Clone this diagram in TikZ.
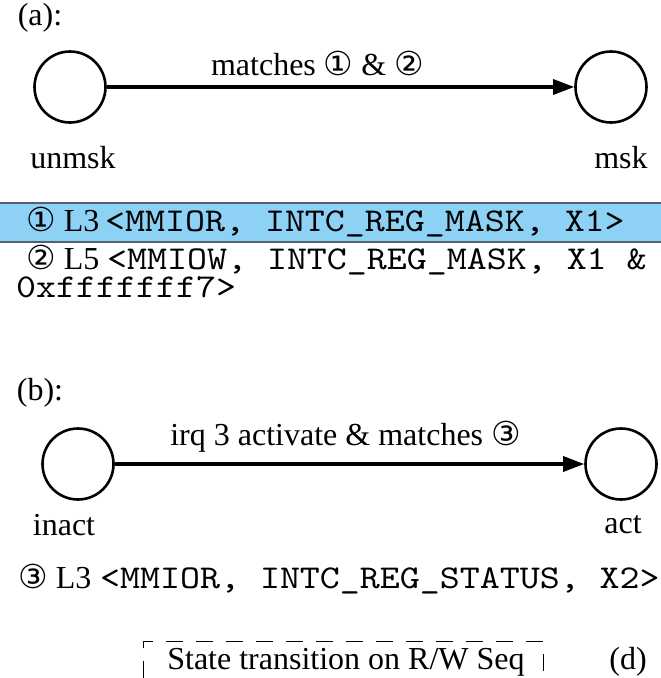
\documentclass[tikz,border=0pt]{standalone}
\usepackage{fontspec}
\setmainfont{Liberation Serif}
\setmonofont{lmmono10-regular.otf}[FakeStretch=1.143]
\newfontfamily\circfont{DejaVu Sans}
\usetikzlibrary{arrows.meta}
\definecolor{bandblue}{RGB}{141,210,245}
\definecolor{bandedge}{RGB}{85,95,115}
\tikzset{
  state/.style={circle,draw=black,line width=2.6pt,minimum size=71pt,inner sep=0pt},
  trans/.style={line width=3.2pt,-{Triangle[length=21pt,width=15pt]}},
  lbl/.style={inner sep=0pt,font=\fontsize{32}{36}\selectfont},
  seq/.style={inner sep=0pt,anchor=base west,font=\fontsize{32}{36}\selectfont},
  code/.style={inner sep=0pt,anchor=base west,font=\fontsize{33.3}{36}\ttfamily},
  dashframe/.style={line width=1pt,dash pattern=on 17pt off 13pt}
}
\newcommand{\cnum}[1]{{\circfont\fontsize{33}{36}\selectfont #1}}
\begin{document}
\begin{tikzpicture}[x=1pt,y=-1pt]
\useasboundingbox (0,0) rectangle (661,678);
% (a)
\node[lbl] (pa) at (40,18) {(a):};
\node[state] (unmsk) at (70,87) {};
\node[state] (msk) at (611,87) {};
\draw[trans] (unmsk) -- (msk) node[lbl,midway,above=10pt,xshift=-23pt] (la) {matches \cnum{①} \& \cnum{②}};
\node[lbl] (tunmsk) at (73,158) {unmsk};
\node[lbl] (tmsk) at (621,158) {msk};
% highlighted band
\fill[bandblue] (0,203) rectangle (661,242);
\draw[bandedge,line width=1.2pt] (0,203) -- (661,203);
\draw[bandedge,line width=1.2pt] (0,242) -- (661,242);
\node[seq] (s1a) at (26,231) {\cnum{①} L3};
\node[code] (s1b) at (105,231) {<MMIOR, INTC\_REG\_MASK, X1>};
\node[seq] (s2a) at (26,269) {\cnum{②} L5};
\node[code] (s2b) at (107,269) {<MMIOW, INTC\_REG\_MASK, X1 \&};
\node[code] (s3) at (16,297) {0xfffffff7>};
% (b)
\node[lbl] (pb) at (40,393) {(b):};
\node[state] (inact) at (78,464) {};
\node[state] (act) at (621,464) {};
\draw[trans] (inact) -- (act) node[lbl,midway,above=10pt,xshift=-4pt] (lb) {irq 3 activate \& matches \cnum{③}};
\node[lbl] (tinact) at (64,525) {inact};
\node[lbl] (tact) at (623,525) {act};
\node[seq] (s4a) at (18,588) {\cnum{③} L3};
\node[code] (s4b) at (100,588) {<MMIOR, INTC\_REG\_STATUS, X2>};
% (d)
\node[lbl] (legend) at (346,662) {State transition on R/W Seq};
\coordinate (fl) at (143,678);
\coordinate (fr) at (543,678);
\draw[dashframe] (fl) -- (143,641) -- (543,641) -- (fr);
\node[lbl] (pd) at (628,662) {(d)};
\end{tikzpicture}
\end{document}
